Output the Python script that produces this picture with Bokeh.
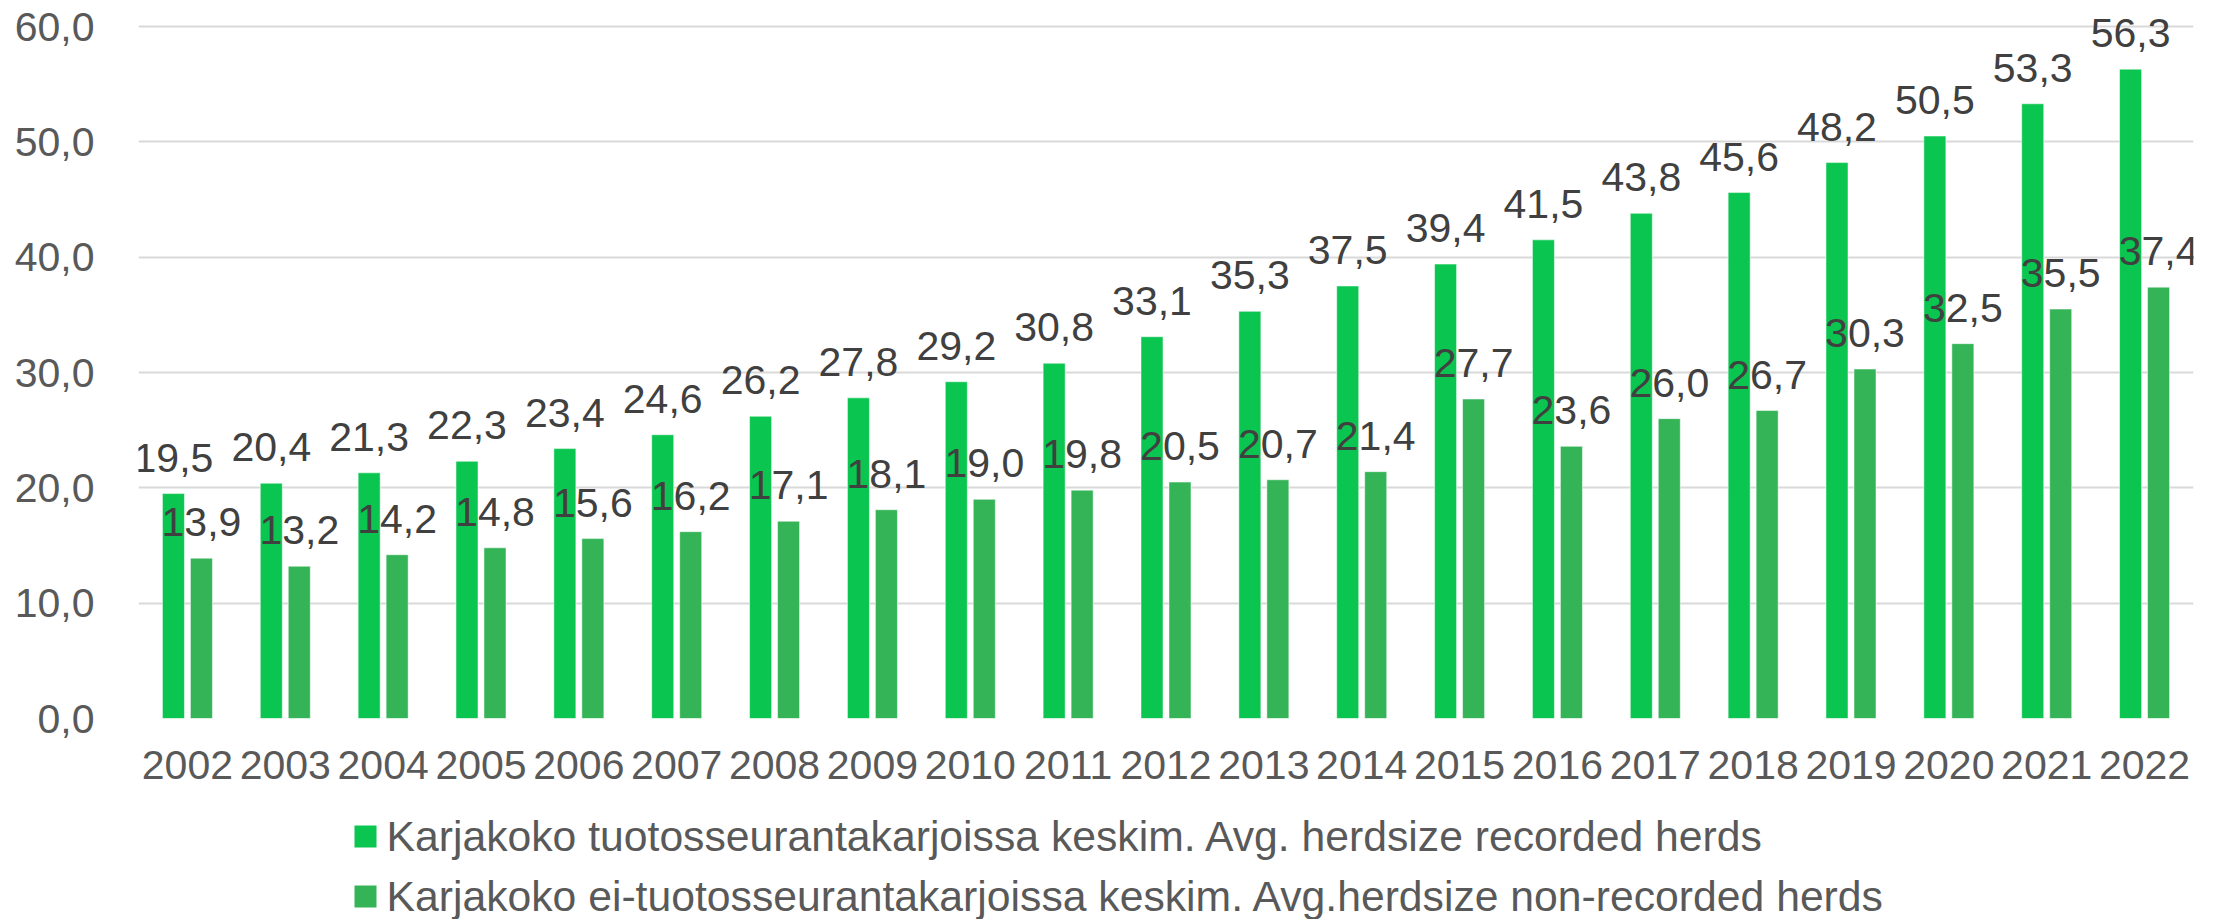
from bokeh.plotting import figure
from bokeh.models import ColumnDataSource, FactorRange, FixedTicker, Range1d
from bokeh.layouts import column
from bokeh.transform import dodge
from bokeh.core.properties import value
from bokeh.embed import file_html
from bokeh.resources import INLINE

years = [str(y) for y in range(2002, 2023)]
recorded = [19.5, 20.4, 21.3, 22.3, 23.4, 24.6, 26.2, 27.8, 29.2, 30.8, 33.1,
            35.3, 37.5, 39.4, 41.5, 43.8, 45.6, 48.2, 50.5, 53.3, 56.3]
non_recorded = [13.9, 13.2, 14.2, 14.8, 15.6, 16.2, 17.1, 18.1, 19.0, 19.8, 20.5,
                20.7, 21.4, 27.7, 23.6, 26.0, 26.7, 30.3, 32.5, 35.5, 37.4]
y_ticks = [0, 10, 20, 30, 40, 50, 60]
y_tick_labels = ["0,0", "10,0", "20,0", "30,0", "40,0", "50,0", "60,0"]
series_names = ["Karjakoko tuotosseurantakarjoissa keskim. Avg. herdsize recorded herds",
                "Karjakoko ei-tuotosseurantakarjoissa keskim. Avg.herdsize non-recorded herds"]
series_colors = ["#0AC54F", "#34B357"]

FONT = "Liberation Sans"
FS = "41px"
W = 2213
FRAME_LEFT, FRAME_RIGHT, FRAME_TOP_GAP, FRAME_BOTTOM = 138, 2193, 26, 718
PH = 800

def fmt(v):
    return f"{v:.1f}".replace(".", ",")

src = ColumnDataSource(dict(
    year=years, rec=recorded, non=non_recorded,
    rec_lbl=[fmt(v) for v in recorded], non_lbl=[fmt(v) for v in non_recorded],
))

# axis max is 60; the frame reaches a little higher so that labels above tall bars are not clipped
y_top = y_ticks[-1] * (1 + FRAME_TOP_GAP / (FRAME_BOTTOM - FRAME_TOP_GAP))

p = figure(width=W, height=PH, x_range=FactorRange(*years), y_range=Range1d(0, y_top),
           output_backend="svg", toolbar_location=None, title=None,
           min_border_left=FRAME_LEFT, min_border_right=W - FRAME_RIGHT,
           min_border_top=0, min_border_bottom=PH - FRAME_BOTTOM)
p.x_range.range_padding = 0
p.outline_line_color = None

p.vbar(x=dodge("year", -0.143, range=p.x_range), top="rec", width=0.225, source=src,
       fill_color=series_colors[0], line_color="#ffffff", line_alpha=0.5, line_width=1)
p.vbar(x=dodge("year", 0.143, range=p.x_range), top="non", width=0.225, source=src,
       fill_color=series_colors[1], line_color="#ffffff", line_alpha=0.5, line_width=1)

p.text(x=dodge("year", -0.143, range=p.x_range), y="rec", text="rec_lbl", source=src,
       text_align="center", text_baseline="alphabetic", y_offset=-36,
       text_font=value(FONT), text_font_size=FS, text_color="#404040")
p.text(x=dodge("year", 0.143, range=p.x_range), y="non", text="non_lbl", source=src,
       text_align="center", text_baseline="alphabetic", y_offset=-36,
       text_font=value(FONT), text_font_size=FS, text_color="#404040")

p.xgrid.grid_line_color = None
p.ygrid.grid_line_color = "#d9d9d9"
p.ygrid.grid_line_width = 2
p.yaxis.ticker = FixedTicker(ticks=y_ticks)
p.ygrid.ticker = FixedTicker(ticks=y_ticks)
p.yaxis.major_label_overrides = {t: l for t, l in zip(y_ticks, y_tick_labels)}

for ax in (p.xaxis[0], p.yaxis[0]):
    ax.axis_line_color = None
    ax.major_tick_line_color = None
    ax.minor_tick_line_color = None
    ax.major_label_text_font = FONT
    ax.major_label_text_font_size = FS
    ax.major_label_text_color = "#595959"
p.yaxis.major_label_standoff = 38
p.xaxis.major_label_standoff = 26

# legend panel below the chart (its frame is aligned with the chart frame by the column layout)
LH = 119
lg = figure(width=W, height=LH, x_range=Range1d(FRAME_LEFT, FRAME_RIGHT), y_range=Range1d(0, LH),
            x_axis_type=None, y_axis_type=None, title=None,
            output_backend="svg", toolbar_location=None,
            min_border_left=FRAME_LEFT, min_border_right=W - FRAME_RIGHT,
            min_border_top=0, min_border_bottom=0)
lg.grid.visible = False
lg.outline_line_color = None
leg_src = ColumnDataSource(dict(
    gx=[365, 365], gy=[LH - 36, LH - 96], tx=[386, 386], ty=[LH - 35, LH - 95],
    name=series_names, color=series_colors,
))
lg.rect(x="gx", y="gy", width=22, height=22, width_units="screen", height_units="screen",
        fill_color="color", line_color=None, source=leg_src)
lg.text(x="tx", y="ty", text="name", source=leg_src, text_align="left", text_baseline="middle",
        text_font=value(FONT), text_font_size="42.7px", text_color="#595959")

layout = column(p, lg, spacing=0)
open("out.html", "w").write(file_html(layout, INLINE))
